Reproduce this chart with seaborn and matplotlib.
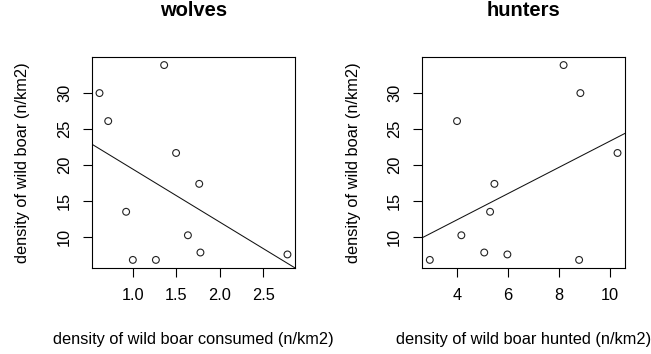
import numpy as np
import pandas as pd
import matplotlib
matplotlib.use("Agg")
import matplotlib.pyplot as plt
import seaborn as sns

# Wild boar density per area, with boar consumed by wolves and boar hunted
boar_density = [30.0, 26.1, 33.9, 21.66, 17.36, 13.47, 10.2, 7.8, 7.53, 6.77, 6.77]
consumed_by_wolves = [0.62, 0.72, 1.363, 1.50, 1.766, 0.926, 1.636, 1.78, 2.78, 1.003, 1.268]
hunted = [8.85, 4.0, 8.19, 10.31, 5.47, 5.30, 4.17, 5.07, 5.98, 2.93, 8.80]

wolf_xticks = [1.0, 1.5, 2.0, 2.5]
hunt_xticks = [4, 6, 8, 10]
yticks = [10, 15, 20, 25, 30]

df = pd.DataFrame({"density": boar_density,
                   "consumed": consumed_by_wolves,
                   "hunted": hunted})

sns.set_style("ticks")
plt.rcParams["font.family"] = ["Liberation Sans", "DejaVu Sans"]
plt.rcParams["text.color"] = "black"
plt.rcParams["axes.labelcolor"] = "black"
plt.rcParams["xtick.color"] = "black"
plt.rcParams["ytick.color"] = "black"

fig = plt.figure(figsize=(6.51, 3.54), dpi=100)
ax1 = fig.add_axes([0.1413, 0.2438, 0.3118, 0.5944])
ax2 = fig.add_axes([0.6487, 0.2438, 0.3114, 0.5944])


def padded(vals, frac=0.04):
    lo, hi = min(vals), max(vals)
    r = hi - lo
    return lo - frac * r, hi + frac * r


panels = [
    (ax1, "consumed", "wolves", "density of wild boar consumed (n/km2)",
     wolf_xticks, [f"{t:.1f}" for t in wolf_xticks]),
    (ax2, "hunted", "hunters", "density of wild boar hunted (n/km2)",
     hunt_xticks, [str(t) for t in hunt_xticks]),
]

for ax, xcol, title, xlabel, xt, xtl in panels:
    xlim = padded(df[xcol])
    ylim = padded(df["density"])
    ax.set_xlim(*xlim)
    ax.set_ylim(*ylim)
    sns.regplot(data=df, x=xcol, y="density", ax=ax, ci=None, truncate=False,
                scatter_kws=dict(s=24, facecolors="none", edgecolors="#222222",
                                 linewidths=0.8, alpha=1),
                line_kws=dict(color="#111111", lw=0.75))
    ax.set_xlim(*xlim)
    ax.set_ylim(*ylim)

    ax.set_xticks(xt)
    ax.set_xticklabels(xtl)
    ax.set_yticks(yticks)
    ax.set_yticklabels([str(t) for t in yticks], rotation=90, va="center")
    ax.tick_params(axis="both", direction="out", length=6.5, width=0.8,
                   labelsize=11.8)
    ax.tick_params(axis="x", pad=8)
    ax.tick_params(axis="y", pad=8)
    for sp in ax.spines.values():
        sp.set_visible(True)
        sp.set_color("black")
        sp.set_linewidth(0.8)

    ax.set_xlabel(xlabel, fontsize=11.8)
    ax.xaxis.set_label_coords(0.5, -0.3436)
    ax.xaxis.label.set_va("center")
    ax.set_ylabel("density of wild boar (n/km2)", fontsize=11.8)
    ax.yaxis.set_label_coords(-0.34, 0.5)
    ax.yaxis.label.set_va("center")
    ax.set_title(title, fontsize=14.5, fontweight="bold", y=1.185, va="center")

fig.savefig("out.png", dpi=100, facecolor="white")
